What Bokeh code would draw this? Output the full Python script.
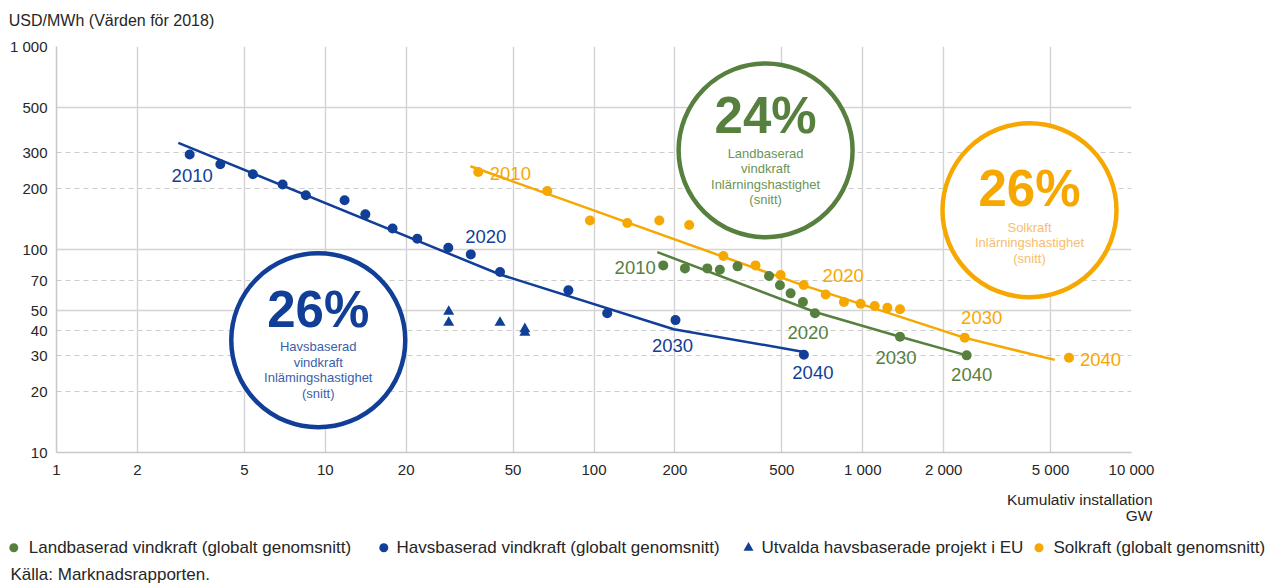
from bokeh.plotting import figure
from bokeh.layouts import column
from bokeh.models import Range1d, FixedTicker, Grid, ColumnDataSource
from bokeh.core.properties import value
from bokeh.embed import file_html
from bokeh.resources import INLINE

# ---------------- data ----------------
x_ticks = [1, 2, 5, 10, 20, 50, 100, 200, 500, 1000, 2000, 5000, 10000]
x_tick_labels = ["1", "2", "5", "10", "20", "50", "100", "200", "500", "1 000", "2 000", "5 000", "10 000"]
y_ticks = [10, 20, 30, 40, 50, 70, 100, 200, 300, 500, 1000]
y_tick_labels = ["10", "20", "30", "40", "50", "70", "100", "200", "300", "500", "1 000"]
y_grid_solid = [10, 50, 100, 500, 1000]
y_grid_dashed = [20, 30, 40, 70, 200, 300]

y_title = "USD/MWh (Värden för 2018)"
x_title = ["Kumulativ installation", "GW"]
source_note = "Källa: Marknadsrapporten."

# Offshore wind (global average)
offshore_x = [3.13, 4.07, 5.38, 6.94, 8.47, 11.8, 14.1, 17.8, 22.0, 28.7, 34.8, 44.7, 80.3, 112, 201, 604]
offshore_y = [294, 263, 235, 209, 185, 175, 149, 127, 113, 102, 94.6, 77.4, 62.9, 48.5, 44.9, 30.3]
offshore_trend_x = [2.84, 44.7, 198, 604]
offshore_trend_y = [335, 75.3, 40.5, 31.3]

# Selected offshore projects in EU
eu_x = [28.8, 28.8, 44.7, 55.3, 55.3]
eu_y = [49.4, 43.6, 43.6, 40.6, 39.0]

# Onshore wind (global average)
onshore_x = [181, 218, 264, 294, 342, 448, 492, 539, 599, 664, 1376, 2436]
onshore_y = [83.5, 80.7, 80.7, 79.4, 82.6, 74.0, 66.6, 60.8, 55.1, 48.5, 37.2, 30.1]
onshore_trend_x = [172, 664, 1376, 2436]
onshore_trend_y = [97.1, 49.2, 37.2, 30.1]

# Solar (global average)
solar_x = [37.1, 67.0, 96.6, 133, 175, 226, 303, 399, 495, 603, 728, 851, 982, 1108, 1235, 1376, 2395, 5854]
solar_y = [241, 194, 139, 135, 139, 132, 92.8, 83.5, 74.8, 66.8, 60.0, 55.1, 54.1, 52.7, 51.7, 50.8, 36.8, 29.3]
solar_trend_x = [34.7, 587, 2381, 5180]
solar_trend_y = [257, 67.3, 36.8, 28.6]

# year annotations: (series, point index, text, dx, dy, align)
year_labels = [
    ("offshore", 0, "2010", 2.5, 21, "center"),
    ("offshore", 10, "2020", 15, -18, "center"),
    ("offshore", 14, "2030", -3, 25, "center"),
    ("offshore", 15, "2040", 9, 18, "center"),
    ("onshore", 0, "2010", -7.5, 2, "right"),
    ("onshore", 9, "2020", -7, 19, "center"),
    ("onshore", 10, "2030", -4, 21, "center"),
    ("onshore", 11, "2040", 5, 19, "center"),
    ("solar", 0, "2010", 11.5, 1.5, "left"),
    ("solar", 10, "2020", 17.5, -19.5, "center"),
    ("solar", 16, "2030", 17, -20, "center"),
    ("solar", 17, "2040", 11, 1.3, "left"),
]

# learning-rate badges
badge_series = ["offshore", "onshore", "solar"]
badge_pct = ["26%", "24%", "26%"]
badge_x = [9.42, 435, 4173]
badge_y = [35.7, 308, 156]
badge_lines = [
    ["Havsbaserad", "vindkraft", "Inlämingshastighet", "(snitt)"],
    ["Landbaserad", "vindkraft", "Inlärningshastighet", "(snitt)"],
    ["Solkraft", "Inlärningshastighet", "(snitt)"],
]
badge_pct_dy = [-30.5, -35, -22.2]
badge_line_dy0 = [6.4, 2.7, 16.8]

legend_keys = ["onshore", "offshore", "eu", "solar"]
legend_labels = [
    "Landbaserad vindkraft (globalt genomsnitt)",
    "Havsbaserad vindkraft (globalt genomsnitt)",
    "Utvalda havsbaserade projekt i EU",
    "Solkraft (globalt genomsnitt)",
]

# ---------------- style / layout ----------------
FONT = "Liberation Sans"
COL = {"offshore": "#113f97", "onshore": "#57803f", "solar": "#f6a800", "eu": "#113f97"}
SUB_COL = {"offshore": "#3a5fab", "onshore": "#6b9455", "solar": "#f8bd6c"}
MARK = {"offshore": "circle", "onshore": "circle", "solar": "circle", "eu": "triangle"}
GRID = "#d3d3d3"
TXT = "#262626"
W = 1272
TOP_H = 30
BOTTOM_H = 105

series = {
    "offshore": (offshore_x, offshore_y),
    "onshore": (onshore_x, onshore_y),
    "solar": (solar_x, solar_y),
}
trends = {
    "offshore": (offshore_trend_x, offshore_trend_y),
    "onshore": (onshore_trend_x, onshore_trend_y),
    "solar": (solar_trend_x, solar_trend_y),
}


def strip(h):
    f = figure(width=W, height=h, x_range=Range1d(0, W), y_range=Range1d(h, 0),
               x_axis_type=None, y_axis_type=None, output_backend="svg",
               toolbar_location=None, min_border=0, frame_align=False)
    f.grid.visible = False
    f.outline_line_color = None
    f.background_fill_color = "white"
    f.border_fill_color = "white"
    return f


# ---- top strip: y-axis title
top = strip(TOP_H)
top.text([8.3], [20], text=[y_title], text_align="left", text_baseline="middle",
         text_color=TXT, text_font=value(FONT), text_font_size=value("16px"))

# ---- main chart
p = figure(frame_width=1075, frame_height=406,
           x_axis_type="log", y_axis_type="log",
           x_range=Range1d(1, 10000), y_range=Range1d(10, 1000),
           output_backend="svg", toolbar_location=None,
           min_border_left=56, min_border_right=141,
           min_border_top=16, min_border_bottom=28, frame_align=False)
p.outline_line_color = None
p.background_fill_color = "white"
p.border_fill_color = "white"

p.xgrid.ticker = FixedTicker(ticks=x_ticks)
p.xgrid.grid_line_color = GRID
p.xgrid.grid_line_width = 1.4
p.ygrid.ticker = FixedTicker(ticks=y_grid_solid)
p.ygrid.grid_line_color = GRID
p.ygrid.grid_line_width = 1.4
p.add_layout(Grid(dimension=1, ticker=FixedTicker(ticks=y_grid_dashed),
                  grid_line_color="#cccccc", grid_line_width=1.2, grid_line_dash="5 4"))

for ax, ticks, labels in ((p.xaxis[0], x_ticks, x_tick_labels), (p.yaxis[0], y_ticks, y_tick_labels)):
    ax.ticker = FixedTicker(ticks=ticks)
    ax.major_label_overrides = {t: l for t, l in zip(ticks, labels)}
    ax.major_tick_in = 0
    ax.major_tick_out = 0
    ax.minor_tick_in = 0
    ax.minor_tick_out = 0
    ax.axis_line_color = "#c8c8c8"
    ax.axis_line_width = 1.5
    ax.major_label_text_font = FONT
    ax.major_label_text_font_size = "15px"
    ax.major_label_text_color = TXT
p.xaxis.major_label_standoff = 8
p.yaxis.major_label_standoff = 9

for key, (tx, ty) in trends.items():
    p.line(tx, ty, line_color=COL[key], line_width=2.5)

for key, (sx, sy) in series.items():
    p.scatter(sx, sy, marker="circle", size=10, fill_color=COL[key], line_color=None)
p.scatter(eu_x, eu_y, marker="triangle", size=11, fill_color=COL["eu"], line_color=None)

for align in ("left", "center", "right"):
    rows = [r for r in year_labels if r[5] == align]
    src = ColumnDataSource(dict(
        x=[series[r[0]][0][r[1]] for r in rows],
        y=[series[r[0]][1][r[1]] for r in rows],
        text=[r[2] for r in rows],
        dx=[r[3] for r in rows],
        dy=[r[4] for r in rows],
        color=[COL[r[0]] for r in rows],
    ))
    p.text(x="x", y="y", text="text", x_offset="dx", y_offset="dy", source=src,
           text_color="color", text_align=align, text_baseline="middle",
           text_font=value(FONT), text_font_size=value("18.5px"))

for i, key in enumerate(badge_series):
    p.scatter([badge_x[i]], [badge_y[i]], marker="circle", size=174,
              fill_color="white", line_color=COL[key], line_width=4.5)
    p.text([badge_x[i]], [badge_y[i]], text=[badge_pct[i]], y_offset=badge_pct_dy[i],
           text_align="center", text_baseline="middle", text_color=COL[key],
           text_font=value(FONT), text_font_style="bold", text_font_size=value("51px"))
    lines = badge_lines[i]
    p.text([badge_x[i]] * len(lines), [badge_y[i]] * len(lines), text=lines,
           y_offset=[badge_line_dy0[i] + 15.5 * k for k in range(len(lines))],
           text_align="center", text_baseline="middle", text_color=SUB_COL[key],
           text_font=value(FONT), text_font_size=value("13px"))

# ---- bottom strip: x-axis title, legend, source
bot = strip(BOTTOM_H)
bot.text([1152, 1152], [19, 35], text=x_title, text_align="right", text_baseline="middle",
         text_color=TXT, text_font=value(FONT), text_font_size=value("15.5px"))

legend_marker_x = [13.3, 383.3, 748, 1038.5]
legend_text_x = [28.3, 396, 761, 1053]
legend_row_y = 67.3
for key, mx, tx, lab in zip(legend_keys, legend_marker_x, legend_text_x, legend_labels):
    bot.scatter([mx], [legend_row_y], marker=MARK[key], size=9 if MARK[key] == "circle" else 10,
                fill_color=COL[key], line_color=None)
    bot.text([tx], [legend_row_y], text=[lab], text_align="left", text_baseline="middle",
             text_color=TXT, text_font=value(FONT), text_font_size=value("17px"))

bot.text([10], [94], text=[source_note], text_align="left", text_baseline="middle",
         text_color=TXT, text_font=value(FONT), text_font_size=value("17px"))

layout = column(top, p, bot, spacing=0)
open("out.html", "w").write(file_html(layout, INLINE))
